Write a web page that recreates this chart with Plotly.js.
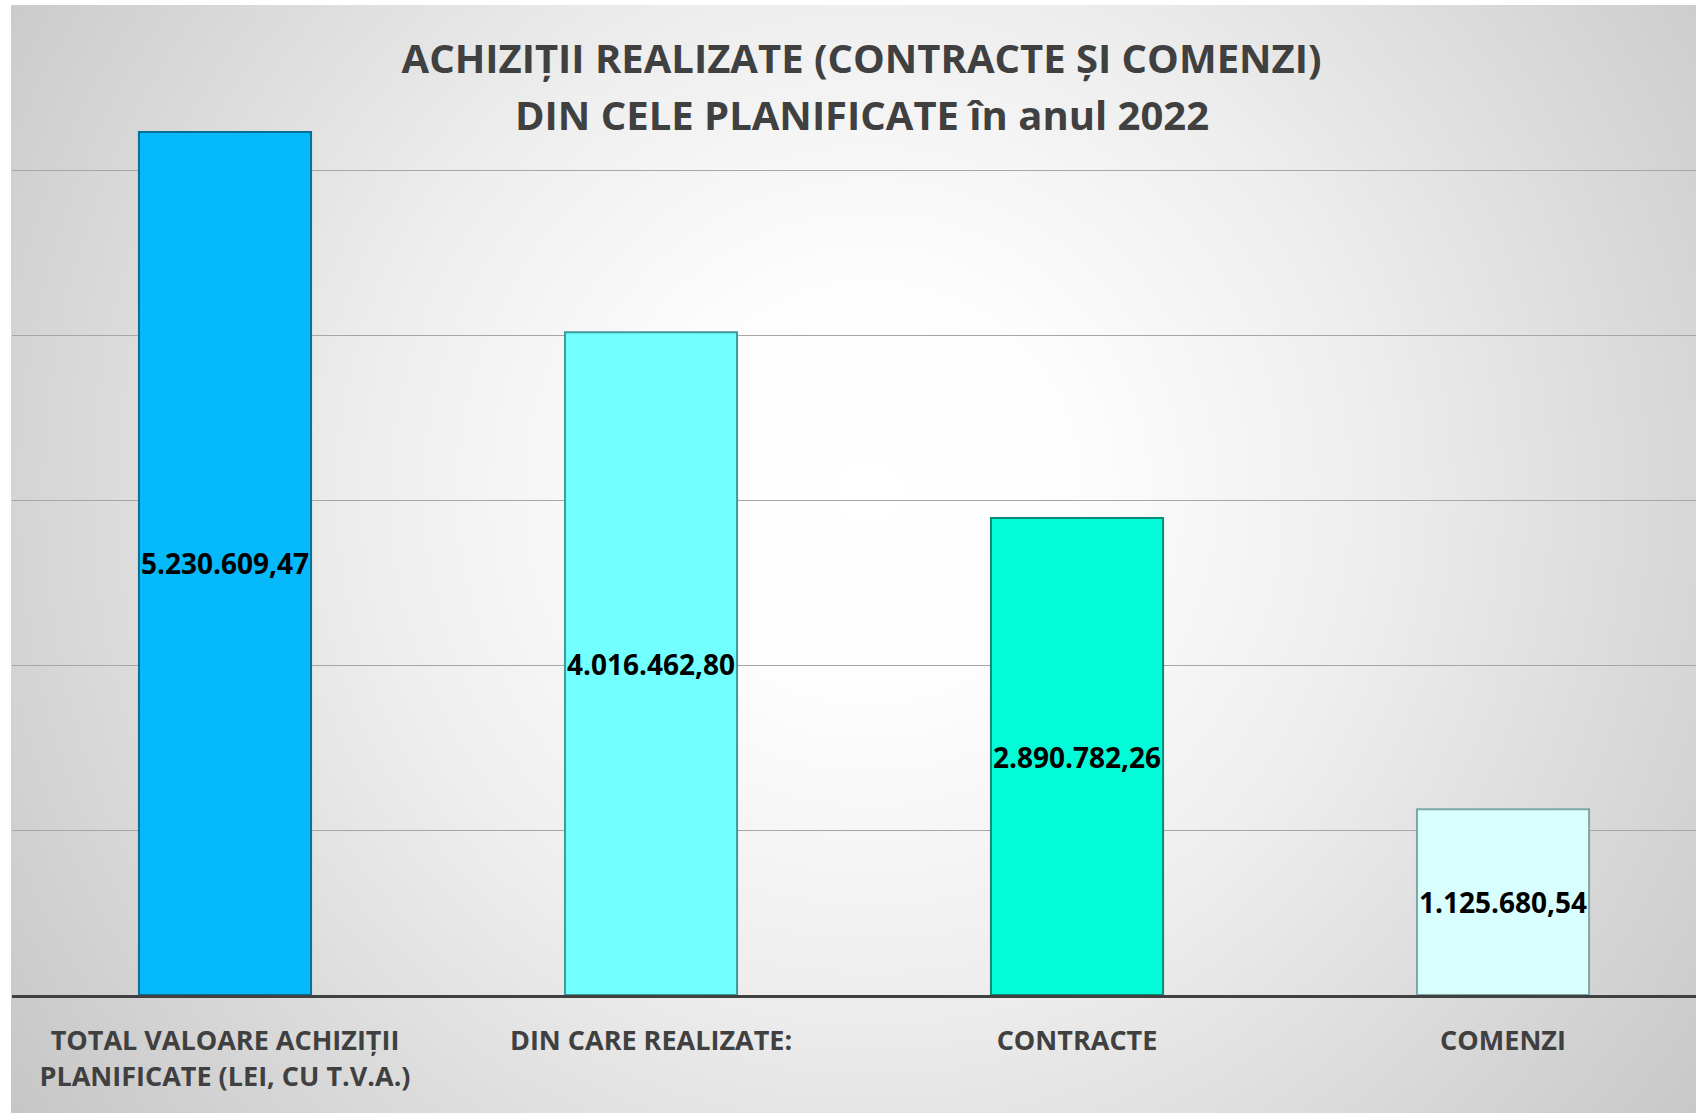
<!DOCTYPE html>
<html>
<head>
<meta charset="utf-8">
<script src="https://cdn.plot.ly/plotly-3.0.1.min.js"></script>
<style>
  html, body { margin: 0; padding: 0; background: #ffffff; }
  #wrap { position: relative; width: 1696px; height: 1113px; overflow: hidden; }
  #bg { position: absolute; left: 11px; top: 5px; width: 1685px; height: 1108px;
        background: radial-gradient(circle farthest-corner at 51% 44%, #ffffff 0%, #fdfdfd 20%, #eeeeee 47%, #d8d8d8 76%, #c6c6c6 100%); }
  #chart { position: absolute; left: 0; top: 0; width: 1696px; height: 1113px; }
</style>
</head>
<body>
<div id="wrap"><div id="bg"></div><div id="chart"></div></div>
<script>
const categories = [
  "TOTAL VALOARE ACHIZIȚII<br>PLANIFICATE (LEI, CU T.V.A.)",
  "DIN CARE REALIZATE:",
  "CONTRACTE",
  "COMENZI"
];
const values = [5230609.47, 4016462.80, 2890782.26, 1125680.54];
const valueLabels = ["5.230.609,47", "4.016.462,80", "2.890.782,26", "1.125.680,54"];
const barColors = ["#05B9FB", "#72FFFF", "#03FCD7", "#D8FEFE"];
const barEdges = ["#0A6E94", "#3E9A9A", "#0A8C74", "#7FA6A6"];
const titleLine1 = "ACHIZIȚII REALIZATE (CONTRACTE ȘI COMENZI)";
const titleLine2 = "DIN CELE PLANIFICATE în anul 2022";

const trace = {
  type: "bar",
  x: categories,
  y: values,
  text: valueLabels,
  textposition: "inside",
  insidetextanchor: "middle",
  constraintext: "none",
  textangle: 0,
  insidetextfont: { family: "Open Sans, sans-serif", size: 28, color: "#000000", weight: 700 },
  marker: { color: barColors, line: { color: barEdges, width: 2 } },
  hoverinfo: "none",
  cliponaxis: false
};

const layout = {
  width: 1696,
  height: 1113,
  margin: { l: 12, r: 0, t: 5, b: 118, pad: 0 },
  paper_bgcolor: "rgba(0,0,0,0)",
  plot_bgcolor: "rgba(0,0,0,0)",
  showlegend: false,
  bargap: 0.596,
  font: { family: "Open Sans, sans-serif", color: "#404040" },
  title: {
    text: titleLine1,
    font: { family: "Open Sans, sans-serif", size: 40, color: "#404040", weight: 700 },
    xref: "container", x: 0.508, xanchor: "center",
    yref: "container", y: 0.947, yanchor: "middle"
  },
  annotations: [{
    text: titleLine2,
    font: { family: "Open Sans, sans-serif", size: 40, color: "#404040", weight: 700 },
    xref: "paper", x: 0.5048, xanchor: "center",
    yref: "paper", y: 0.8889, yanchor: "middle",
    showarrow: false
  }],
  xaxis: {
    type: "category",
    range: [-0.5, 3.453],
    showline: true, linecolor: "#404040", linewidth: 3,
    ticks: "", showgrid: false, zeroline: false,
    ticklabelstandoff: 20,
    tickfont: { family: "Open Sans, sans-serif", size: 27, color: "#404040", weight: 700 },
    fixedrange: true
  },
  yaxis: {
    range: [0, 6000000],
    dtick: 1000000,
    showticklabels: false,
    showgrid: true, gridcolor: "#a6a6a6", gridwidth: 1,
    zeroline: false, showline: false, ticks: "",
    fixedrange: true
  }
};

Plotly.newPlot("chart", [trace], layout, { displayModeBar: false, staticPlot: true });
</script>
</body>
</html>
